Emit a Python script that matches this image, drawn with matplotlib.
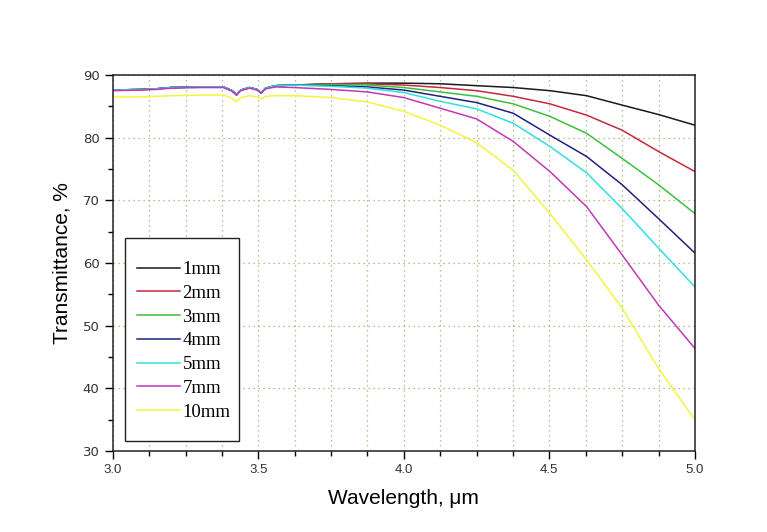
import matplotlib
matplotlib.use("Agg")
import matplotlib.pyplot as plt
from matplotlib.ticker import MultipleLocator
from matplotlib.patches import Rectangle

wavelength = [3.0, 3.1, 3.15, 3.2, 3.3, 3.38, 3.41, 3.425, 3.44, 3.47, 3.495, 3.51, 3.525,
              3.56, 3.625, 3.75, 3.875, 4.0, 4.125, 4.25, 4.376, 4.502, 4.628, 4.75, 4.875, 5.0]

t_1mm = [87.6, 87.7, 87.8, 88.0, 88.1, 88.1, 87.5, 86.9, 87.6, 88.0, 87.7, 87.2, 87.9,
         88.3, 88.4, 88.6, 88.7, 88.7, 88.6, 88.3, 88.0, 87.5, 86.7, 85.2, 83.7, 82.0]
t_2mm = [87.6, 87.7, 87.8, 88.0, 88.1, 88.1, 87.5, 86.9, 87.6, 88.0, 87.7, 87.2, 87.9,
         88.3, 88.4, 88.6, 88.6, 88.4, 88.0, 87.5, 86.6, 85.4, 83.6, 81.2, 77.8, 74.6]
t_3mm = [87.6, 87.7, 87.8, 88.0, 88.1, 88.1, 87.5, 86.9, 87.6, 88.0, 87.7, 87.2, 87.9,
         88.3, 88.4, 88.5, 88.4, 88.0, 87.3, 86.6, 85.4, 83.4, 80.7, 76.7, 72.5, 67.9]
t_4mm = [87.6, 87.7, 87.8, 88.0, 88.1, 88.1, 87.5, 86.8, 87.6, 88.0, 87.7, 87.1, 87.9,
         88.3, 88.4, 88.3, 88.1, 87.6, 86.6, 85.6, 83.9, 80.4, 77.0, 72.5, 67.1, 61.6]
t_5mm = [87.6, 87.7, 87.8, 88.0, 88.1, 88.1, 87.5, 86.9, 87.6, 88.0, 87.7, 87.2, 87.9,
         88.3, 88.4, 88.2, 87.9, 87.2, 85.8, 84.6, 82.3, 78.6, 74.4, 68.7, 62.4, 56.2]
t_7mm = [87.5, 87.6, 87.7, 87.9, 88.0, 88.0, 87.4, 86.8, 87.5, 87.9, 87.6, 87.1, 87.8,
         88.1, 88.0, 87.7, 87.3, 86.4, 84.7, 83.0, 79.4, 74.6, 69.0, 61.3, 53.3, 46.4]
t_10mm = [86.5, 86.5, 86.6, 86.7, 86.8, 86.8, 86.3, 85.7, 86.4, 86.7, 86.5, 86.2, 86.6,
          86.7, 86.7, 86.4, 85.7, 84.2, 82.0, 79.2, 74.8, 67.9, 60.5, 52.8, 43.2, 35.0]

series = [("1mm", t_1mm), ("2mm", t_2mm), ("3mm", t_3mm), ("4mm", t_4mm),
          ("5mm", t_5mm), ("7mm", t_7mm), ("10mm", t_10mm)]
colors = ["#1a1a1a", "#c8283c", "#3cc03c", "#202080", "#30e0e0", "#c038b8", "#f4f440"]

fig = plt.figure(figsize=(7.67, 5.32), dpi=100)
ax = fig.add_axes([0.147, 0.152, 0.759, 0.707])

for (lab, vals), c in zip(series, colors):
    ax.plot(wavelength, vals, color=c, lw=1.1, label=lab)

ax.set_xlim(3.0, 5.0)
ax.set_ylim(30, 90)
ax.xaxis.set_major_locator(MultipleLocator(0.5))
ax.xaxis.set_minor_locator(MultipleLocator(0.125))
ax.yaxis.set_major_locator(MultipleLocator(10))
ax.yaxis.set_minor_locator(MultipleLocator(5))
ax.tick_params(which="major", direction="out", length=6, width=1, labelsize=9.5,
               labelcolor="#333333", top=False, right=False)
ax.tick_params(which="minor", direction="out", length=3.5, width=1, top=False, right=False)
ax.set_xticklabels([f"{v:.1f}" for v in ax.get_xticks()], family="Liberation Sans")

gkw = dict(color="#a8a870", linestyle=(0, (1, 3)), linewidth=0.9)
ax.grid(True, axis="x", which="both", **gkw)
ax.grid(True, axis="y", which="major", **gkw)
ax.set_axisbelow(True)

for s in ax.spines.values():
    s.set_linewidth(1.1)
    s.set_color("#222222")

ax.set_xlabel("Wavelength, μm", fontsize=15, family="Liberation Sans", labelpad=9)
ax.set_ylabel("Transmittance, %", fontsize=15, family="Liberation Sans", labelpad=8)

# legend box
ax.add_patch(Rectangle((0.0206, 0.0266), 0.197, 0.54, transform=ax.transAxes,
                       facecolor="white", edgecolor="#222222", lw=1.0, zorder=5))
leg = ax.legend(loc="center left", bbox_to_anchor=(0.041, 0.293),
                prop={"family": "Liberation Serif", "size": 13.5},
                frameon=False, handlelength=2.3, handletextpad=0.15,
                labelspacing=0.355, borderpad=0, borderaxespad=0)
leg.set_zorder(6)

fig.savefig("out.png", dpi=100)
